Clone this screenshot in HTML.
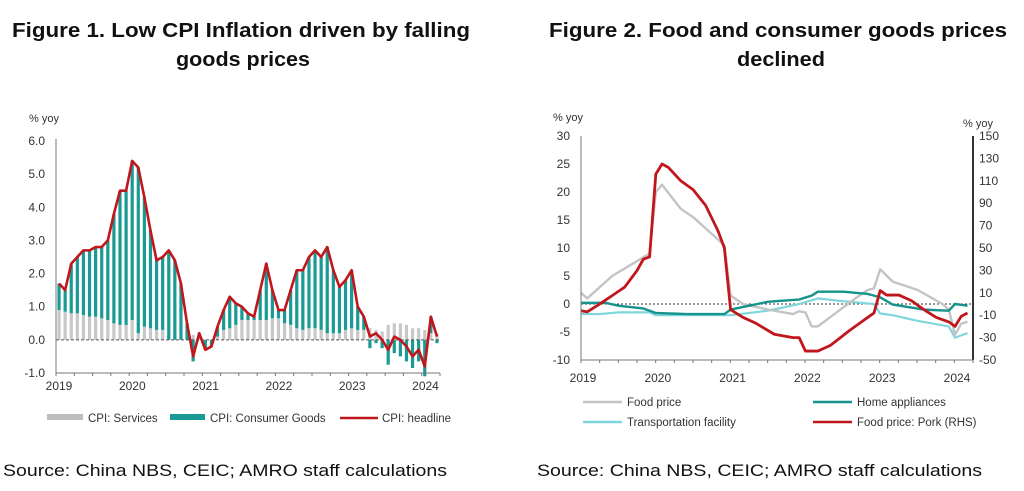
<!DOCTYPE html>
<html><head><meta charset="utf-8"><style>
html,body{margin:0;padding:0;background:#fff;}
svg{display:block;font-family:"Liberation Sans",Arial,sans-serif;}
</style></head><body>
<svg id="s" width="1024" height="491" viewBox="0 0 1024 491" xmlns="http://www.w3.org/2000/svg">
<g font-weight="bold" font-size="20" fill="#111">
<text x="12" y="37" textLength="458" lengthAdjust="spacingAndGlyphs">Figure 1.  Low CPI Inflation driven by falling</text>
<text x="176" y="66" textLength="134" lengthAdjust="spacingAndGlyphs">goods prices</text>
<text x="549" y="37" textLength="458" lengthAdjust="spacingAndGlyphs">Figure 2.  Food and consumer goods prices</text>
<text x="737" y="66" textLength="88" lengthAdjust="spacingAndGlyphs">declined</text>
</g>
<g font-size="17" fill="#111">
<text x="3" y="476" textLength="444" lengthAdjust="spacingAndGlyphs">Source: China NBS, CEIC; AMRO staff calculations</text>
<text x="537" y="476" textLength="445" lengthAdjust="spacingAndGlyphs">Source: China NBS, CEIC; AMRO staff calculations</text>
</g>
<g id="c1"></g><g id="c2"></g>
<g font-size="11.5" fill="#333">
<rect x="47" y="414" width="36" height="6" fill="#bdbdbd"/><text x="88" y="422">CPI: Services</text>
<rect x="170" y="414" width="35" height="6" fill="#1a9a94"/><text x="210" y="422">CPI: Consumer Goods</text>
<line x1="340" y1="418" x2="378" y2="418" stroke="#c0161c" stroke-width="2.5"/><text x="382" y="422">CPI: headline</text>
<line x1="583" y1="402" x2="622" y2="402" stroke="#c4c4c4" stroke-width="2.5"/><text x="627" y="406">Food price</text>
<line x1="813" y1="402" x2="852" y2="402" stroke="#15938c" stroke-width="2.5"/><text x="857" y="406">Home appliances</text>
<line x1="583" y1="422" x2="622" y2="422" stroke="#7fd6dc" stroke-width="2.5"/><text x="627" y="426">Transportation facility</text>
<line x1="813" y1="422" x2="852" y2="422" stroke="#c0161c" stroke-width="2.5"/><text x="857" y="426">Food price: Pork (RHS)</text>
</g>
</svg>
<script>
var NS="http://www.w3.org/2000/svg";
function el(p,t,a,txt){var e=document.createElementNS(NS,t);for(var k in a)e.setAttribute(k,a[k]);if(txt!=null)e.textContent=txt;p.appendChild(e);return e;}
var g=document.getElementById('c1');
var X0=56,X1=440,Y6=141,Ym1=373,ppu=(Ym1-Y6)/7,Y0=Ym1-ppu;
function y1(v){return Y0-v*ppu;}
var mw=(X1-X0)/63;
function x1(i){return X0+mw*(i+0.5);}
var H=[1.7,1.5,2.3,2.5,2.7,2.7,2.8,2.8,3.0,3.8,4.5,4.5,5.4,5.2,4.3,3.3,2.4,2.5,2.7,2.4,1.7,0.5,-0.5,0.2,-0.3,-0.2,0.4,0.9,1.3,1.1,1.0,0.8,0.7,1.5,2.3,1.5,0.9,0.9,1.5,2.1,2.1,2.5,2.7,2.5,2.8,2.1,1.6,1.8,2.1,1.0,0.7,0.1,0.2,0.0,-0.3,0.1,0.0,-0.2,-0.5,-0.3,-0.8,0.7,0.1];
var S=[0.9,0.85,0.8,0.8,0.75,0.7,0.7,0.65,0.6,0.5,0.45,0.45,0.6,0.2,0.4,0.35,0.3,0.3,0.0,0.0,0.0,0.0,0.15,0.1,0.0,0.0,0.1,0.3,0.35,0.45,0.6,0.6,0.6,0.6,0.6,0.65,0.65,0.5,0.45,0.35,0.3,0.35,0.35,0.3,0.2,0.2,0.2,0.3,0.35,0.3,0.3,0.35,0.3,0.25,0.45,0.5,0.5,0.45,0.35,0.35,0.3,0.2,0.2];
var bw=3.2;
for(var i=0;i<63;i++){var x=x1(i)-bw/2,h=H[i],s=S[i],gd=h-s;
 if(s>0)el(g,'rect',{x:x,y:y1(s),width:bw,height:s*ppu,fill:'#c8c8c8'});
 if(gd>0)el(g,'rect',{x:x,y:y1(h),width:bw,height:gd*ppu,fill:'#1a9a94'});
 else if(gd<0)el(g,'rect',{x:x,y:Y0,width:bw,height:-gd*ppu,fill:'#1a9a94'});}
el(g,'line',{x1:X0,y1:Y0,x2:X1,y2:Y0,stroke:'#555','stroke-dasharray':'3,2','stroke-width':1});
el(g,'polyline',{points:H.map(function(v,i){return x1(i)+','+y1(v)}).join(' '),fill:'none',stroke:'#c0161c','stroke-width':2.6,'stroke-linejoin':'round'});
el(g,'line',{x1:X0,y1:Y6-2,x2:X0,y2:Ym1,stroke:'#777'});
el(g,'line',{x1:X0,y1:Ym1,x2:X1,y2:Ym1,stroke:'#777'});
for(var k=0;k<=21;k++){var tx=X0+k*(X1-X0)/21;el(g,'line',{x1:tx,y1:Ym1,x2:tx,y2:Ym1+3,stroke:'#777'});}
['6.0','5.0','4.0','3.0','2.0','1.0','0.0','-1.0'].forEach(function(t,j){el(g,'text',{x:45,y:Y6+j*ppu+4,'font-size':12,fill:'#333','text-anchor':'end'},t);});
['2019','2020','2021','2022','2023','2024'].forEach(function(t,j){el(g,'text',{x:59+j*73.3,y:390,'font-size':12,fill:'#333','text-anchor':'middle'},t);});
el(g,'text',{x:29,y:122,'font-size':11,fill:'#333'},'% yoy');
var c=document.getElementById('c2');
var L=581,R=973,T=136,B=360;
function yl(v){return B-(v+10)*(B-T)/40;}
function yr(v){return B-(v+50)*(B-T)/200;}
var mw2=(955-581)/60;function x2(i){return L+i*mw2;}
function line(d,f,col,w){el(c,'polyline',{points:d.map(function(v,i){return x2(i)+','+f(v)}).join(' '),fill:'none',stroke:col,'stroke-width':w,'stroke-linejoin':'round'});}
function interp(pts){var o=[];for(var k=0;k<pts.length-1;k++){var a=pts[k],b=pts[k+1];for(var i=a[0];i<b[0];i++)o[i]=a[1]+(b[1]-a[1])*(i-a[0])/(b[0]-a[0]);}o[pts[pts.length-1][0]]=pts[pts.length-1][1];return o;}
el(c,'line',{x1:L,y1:yl(0),x2:R,y2:yl(0),stroke:'#333','stroke-dasharray':'2,2','stroke-width':1});
var TR=interp([[0,-1.8],[3,-1.8],[6,-1.5],[11,-1.5],[12,-2],[23,-2],[24,-2],[30,-1.2],[35,0],[38,1],[42,0.5],[47,0],[48,-1.7],[50,-2],[54,-3],[59,-4],[60,-6],[62,-5.2]]);
var HA=interp([[0,0.2],[4,0.2],[6,-0.3],[10,-0.8],[12,-1.6],[17,-1.8],[23,-1.8],[24,-1],[30,0.4],[35,0.8],[37,1.5],[38,2.2],[42,2.2],[46,1.8],[48,1.2],[50,-0.1],[55,-1.0],[59,-1.2],[60,0],[62,-0.3]]);
var FP=interp([[0,2],[1,1],[5,5],[8,7],[11,9],[12,20],[13,21.3],[16,17],[18,15.5],[21,12.5],[23,10.5],[24,1.5],[26,0],[30,-1],[34,-1.8],[35,-1.3],[36,-1.5],[37,-4],[38,-4],[41,-1.5],[44,1],[46,2.5],[47,2.8],[48,6.2],[50,4],[54,2.5],[58,0],[59,-1],[60,-5.5],[61,-3.5],[62,-3.2]]);
var PK=interp([[0,-6],[1,-7],[3,0],[7,15],[9,30],[10,40],[11,42],[12,116],[13,125],[14,122],[16,110],[18,102],[20,88],[22,65],[23,50],[24,-5],[26,-12],[28,-17],[31,-27],[34,-30],[35,-30],[36,-42],[38,-42],[40,-37],[43,-24],[46,-12],[47,-8],[48,12],[49,8],[51,8],[53,3],[55,-5],[57,-12],[59,-16],[60,-20],[61,-11],[62,-8]]);
line(TR,yl,'#7fd6dc',2.2);line(FP,yl,'#c4c4c4',2.4);line(HA,yl,'#15938c',2.4);line(PK,yr,'#c0161c',2.8);
el(c,'line',{x1:L,y1:T,x2:L,y2:B,stroke:'#777'});
el(c,'line',{x1:R,y1:T,x2:R,y2:B,stroke:'#333','stroke-width':2});
el(c,'line',{x1:L,y1:B,x2:R,y2:B,stroke:'#777'});
for(var k=0;k<=21;k++){var tx=L+k*(R-L)/21;el(c,'line',{x1:tx,y1:B,x2:tx,y2:B+3,stroke:'#777'});}
[30,25,20,15,10,5,0,-5,-10].forEach(function(v){el(c,'text',{x:570,y:yl(v)+4,'font-size':12,fill:'#333','text-anchor':'end'},String(v));});
[150,130,110,90,70,50,30,10,-10,-30,-50].forEach(function(v){el(c,'text',{x:979,y:yr(v)+4,'font-size':12,fill:'#333'},String(v));});
['2019','2020','2021','2022','2023','2024'].forEach(function(t,j){el(c,'text',{x:583+j*74.8,y:382,'font-size':12,fill:'#333','text-anchor':'middle'},t);});
el(c,'text',{x:553,y:121,'font-size':11,fill:'#333'},'% yoy');
el(c,'text',{x:963,y:127,'font-size':11,fill:'#333'},'% yoy');
</script>
</body></html>
